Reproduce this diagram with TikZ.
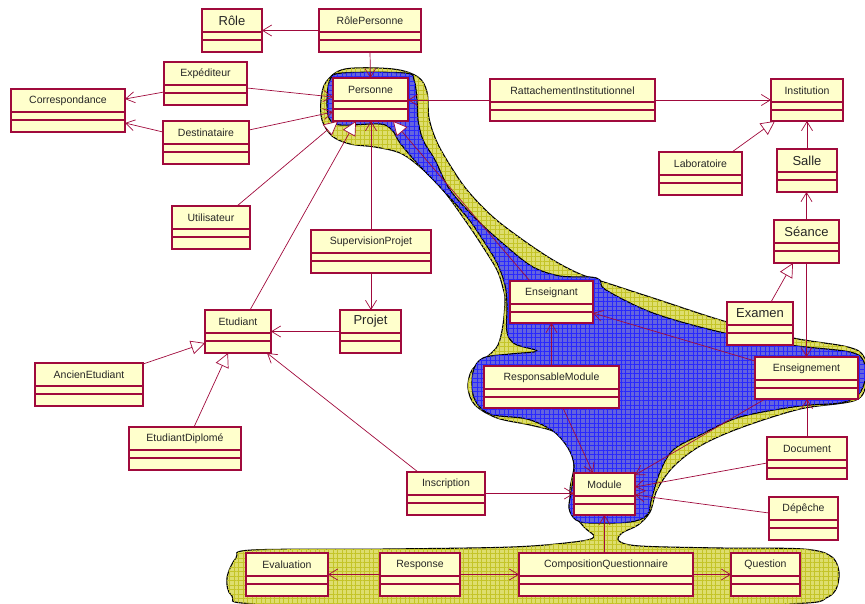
\documentclass[tikz,border=0pt]{standalone}
\usepackage{fontspec}
\setmainfont{Liberation Sans}
\usetikzlibrary{arrows.meta,patterns.meta,calc}
\definecolor{umlred}{RGB}{160,10,60}
\definecolor{boxfill}{RGB}{255,255,204}
\definecolor{ylwfill}{RGB}{222,222,110}
\definecolor{ylwgrid}{RGB}{196,196,40}
\definecolor{blufill}{RGB}{100,100,222}
\definecolor{blugrid}{RGB}{40,40,255}
\pgfdeclarelayer{blob}
\pgfdeclarelayer{conn}
\pgfsetlayers{blob,conn,main}
\tikzset{
  clsbox/.style={draw=umlred, fill=boxfill, line width=1.1pt, inner sep=0pt, outer sep=0pt},
  clsline/.style={draw=umlred, line width=1.1pt},
  clsfont/.style={font=\fontsize{10.5}{12}\selectfont, text=black!85},
  clsbig/.style={font=\fontsize{13}{15}\selectfont, text=black!85},
  assoc/.style={draw=umlred, line width=0.7pt, -{Straight Barb[length=9pt,width=11pt,line width=0.7pt]}},
  gen/.style={draw=umlred, line width=0.7pt, -{Triangle[length=14pt,width=14pt,fill=white,line width=0.7pt]}},
  blobY/.style={draw=black, line width=1.1pt, fill=ylwfill,
    postaction={pattern={Hatch[angle=0,distance=4.5pt,line width=0.5pt]}, pattern color=ylwgrid}},
  blobB/.style={draw=black, line width=1.1pt, fill=blufill,
    postaction={pattern={Hatch[angle=0,distance=4.5pt,line width=0.5pt]}, pattern color=blugrid}},
}
\newcommand\umlclass[7]{%
  \node[clsbox, anchor=north west, minimum width={#4-#2}, minimum height={#5-#3}] (#1) at (#2,#3) {};
  \draw[clsline] ([yshift=-23pt]#1.north west) -- ([yshift=-23pt]#1.north east)
    ([yshift=-31pt]#1.north west) -- ([yshift=-31pt]#1.north east);
  \node[#6] (#1-name) at ([yshift=-11.5pt]#1.north) {#7};
}
\begin{document}
\begin{tikzpicture}[x=1pt,y=-1pt]
\useasboundingbox (0,0) rectangle (865,603);
% classes
\umlclass{role}{202}{9}{262}{52}{clsbig}{Rôle}
\umlclass{rolep}{319}{9}{421}{52}{clsfont}{RôlePersonne}
\umlclass{exped}{164}{62}{247}{105}{clsfont}{Expéditeur}
\umlclass{corr}{11}{89}{125}{132}{clsfont}{Correspondance}
\umlclass{dest}{163}{121}{249}{164}{clsfont}{Destinataire}
\umlclass{pers}{333}{78}{408}{121}{clsfont}{Personne}
\umlclass{util}{172}{206}{250}{249}{clsfont}{Utilisateur}
\umlclass{superv}{311}{230}{431}{273}{clsfont}{SupervisionProjet}
\umlclass{ratt}{490}{79}{655}{121}{clsfont}{RattachementInstitutionnel}
\umlclass{inst}{771}{79}{843}{121}{clsfont}{Institution}
\umlclass{labo}{659}{152}{742}{195}{clsfont}{Laboratoire}
\umlclass{salle}{777}{149}{837}{192}{clsbig}{Salle}
\umlclass{seance}{774}{220}{839}{263}{clsbig}{Séance}
\umlclass{etud}{205}{310}{271}{353}{clsfont}{Etudiant}
\umlclass{projet}{340}{310}{401}{353}{clsbig}{Projet}
\umlclass{ancien}{35}{363}{143}{406}{clsfont}{AncienEtudiant}
\umlclass{diplome}{129}{427}{241}{470}{clsfont}{EtudiantDiplomé}
\umlclass{ens}{510}{281}{593}{323}{clsfont}{Enseignant}
\umlclass{examen}{727}{302}{793}{345}{clsbig}{Examen}
\umlclass{resp}{484}{366}{619}{408}{clsfont}{ResponsableModule}
\umlclass{enst}{755}{357}{858}{399}{clsfont}{Enseignement}
\umlclass{doc}{767}{437}{847}{479}{clsfont}{Document}
\umlclass{dep}{769}{497}{838}{540}{clsfont}{Dépêche}
\umlclass{module}{574}{473}{635}{515}{clsfont}{Module}
\umlclass{inscr}{407}{472}{485}{515}{clsfont}{Inscription}
\umlclass{eval}{246}{553}{328}{596}{clsfont}{Evaluation}
\umlclass{respo}{380}{553}{460}{596}{clsfont}{Response}
\umlclass{compq}{519}{553}{693}{596}{clsfont}{CompositionQuestionnaire}
\umlclass{quest}{731}{553}{800}{596}{clsfont}{Question}
% blobs
\begin{pgfonlayer}{blob}
\draw[blobY] plot[smooth cycle, tension=0.55] coordinates {
(321,100) (326,82) (345,69) (393,69) (418,77) (427,92) (429,118) (436,140)
(448,162) (467,190) (493,217) (523,240) (553,260) (580,274) (610,284)
(653,298) (727,322) (793,338) (848,347) (864,357) (866,380) (856,400)
(800,409) (740,428) (700,446) (673,467) (657,490) (650,512) (638,525)
(622,533) (619,541) (640,546) (720,548) (803,549) (832,557) (839,577)
(828,597) (780,604) (500,605) (260,604) (232,596) (227,578) (236,558)
(252,550) (387,549) (512,547) (574,542) (594,537) (584,527) (573,512)
(570,490) (574,465) (568,445) (555,432) (530,425) (497,418) (475,405)
(468,388) (472,370) (488,356) (498,345) (503,325) (505,300) (503,288)
(497,270) (483,247) (467,223) (443,190) (420,167) (400,153) (375,147)
(350,144) (332,136) (322,120)};
\draw[blobB] plot[smooth cycle, tension=0.55] coordinates {
(327,100) (330,80) (342,73) (405,73) (414,80) (417,100) (418,120) (423,140)
(435,160) (450,190) (477,220) (507,247) (533,267) (560,276) (590,277)
(600,280) (606,290) (653,313) (720,332) (790,345) (850,352) (864,362)
(865,380) (858,395) (840,403) (800,406) (740,417) (700,435) (673,450)
(660,472) (652,497) (647,515) (630,522) (590,523) (576,520) (569,508)
(572,487) (574,465) (568,448) (553,431) (527,419) (490,414) (474,398)
(473,372) (483,358) (510,354) (537,351) (515,344) (507,332) (507,305)
(505,285) (497,263) (483,240) (467,217) (440,187) (417,163) (400,143)
(392,130) (380,124) (340,125) (329,118)};
\end{pgfonlayer}
% connectors
\begin{pgfonlayer}{conn}
\draw[assoc] (rolep.west) -- (role.east);
\draw[assoc] (rolep.south) -- (pers.north);
\draw[assoc] ([yshift=-8.5pt]exped.west) -- ([yshift=11.5pt]corr.east);
\draw[assoc] ([yshift=-4.5pt]exped.east) -- ([yshift=2.5pt]pers.west);
\draw[assoc] ([yshift=10.5pt]dest.west) -- ([yshift=-12.5pt]corr.east);
\draw[assoc] ([yshift=12.5pt]dest.east) -- ([yshift=-12.5pt]pers.west);
\draw[gen] ([xshift=26pt]util.north) -- ([xshift=5pt]pers.south west);
\draw[gen] ([xshift=12pt]etud.north) -- ([xshift=-14.5pt]pers.south);
\draw[assoc] (superv.north) -- (superv.north |- pers.south);
\draw[assoc] (superv.south) -- (superv.south |- projet.north);
\draw[assoc] (projet.west) -- (projet.west -| etud.east);
\draw[gen] ([xshift=-21.5pt]ens.north) -- ([xshift=-15pt]pers.south east);
\draw[assoc] (ratt.west) -- (ratt.west -| pers.east);
\draw[assoc] (ratt.east) -- (ratt.east -| inst.west);
\draw[gen] ([xshift=31.5pt]labo.north) -- ([xshift=4pt]inst.south west);
\draw[assoc] (salle.north) -- (salle.north |- inst.south);
\draw[assoc] (seance.north) -- (seance.north |- salle.south);
\draw[gen] ([xshift=11pt]examen.north) -- ([xshift=-13.5pt]seance.south);
\draw[assoc] (seance.south) -- (seance.south |- enst.north);
\draw[assoc] (doc.north) -- (doc.north |- enst.south);
\draw[assoc] ([yshift=-4pt]enst.north west) -- ([yshift=10pt]ens.south east);
\draw[assoc] (resp.north) -- (resp.north |- ens.south);
\draw[assoc] ([xshift=11.5pt]resp.south) -- ([xshift=-11.5pt]module.north);
\draw[assoc] ([xshift=10pt]enst.south west) -- ([yshift=-2pt]module.north east);
\draw[assoc] ([yshift=-5pt]doc.west) -- ([yshift=7pt]module.east);
\draw[assoc] ([yshift=5.5pt]dep.west) -- ([yshift=-1pt]module.east);
\draw[assoc] (inscr.east) -- (inscr.east -| module.west);
\draw[assoc] ([xshift=-28pt]inscr.north) -- ([xshift=-4pt]etud.south east);
\draw[assoc] (module.south |- compq.north) -- (module.south);
\draw[assoc] (respo.west) -- (respo.west -| eval.east);
\draw[assoc] (respo.east) -- (respo.east -| compq.west);
\draw[assoc] (compq.east) -- (compq.east -| quest.west);
\draw[gen] ([yshift=-1pt]ancien.north east) -- ([yshift=-11.5pt]etud.west);
\draw[gen] ([xshift=9pt]diplome.north) -- ([xshift=-10pt]etud.south);
\end{pgfonlayer}
\end{tikzpicture}
\end{document}
